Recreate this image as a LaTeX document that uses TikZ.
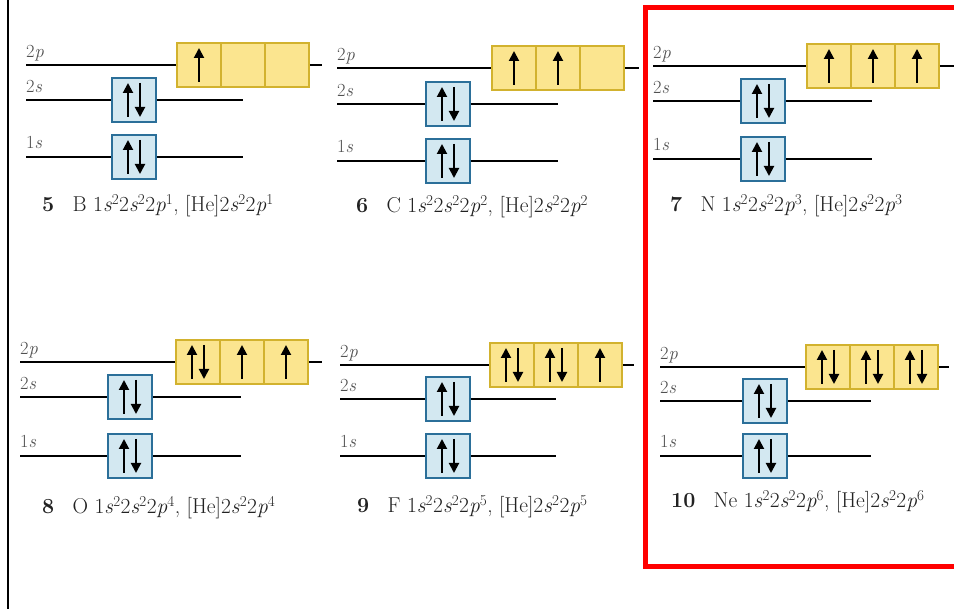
\documentclass[tikz,border=0pt]{standalone}
\usepackage{fontspec}
\usetikzlibrary{arrows.meta}
\definecolor{sfill}{HTML}{D3E8F1}
\definecolor{sborder}{HTML}{2B6F99}
\definecolor{pfill}{HTML}{FBE58F}
\definecolor{pborder}{HTML}{D2B22E}
\definecolor{lblgray}{HTML}{505050}
\definecolor{captxt}{HTML}{222222}
\tikzset{
  lvl/.style={line width=1.8pt, black},
  sbox/.style={draw=sborder, fill=sfill, line width=1.8pt, minimum width=44pt, minimum height=44pt, inner sep=0pt},
  pbox/.style={draw=pborder, fill=pfill, line width=1.5pt, minimum width=44pt, minimum height=44pt, inner sep=0pt},
  orb/.style={font=\fontsize{18.5}{19}\selectfont, text=lblgray, anchor=base west, inner sep=0pt},
  captn/.style={font=\fontsize{21.5}{22}\selectfont, text=captxt, anchor=base west, inner sep=0pt},
  spin/.style={line width=2pt, black, -{Triangle[length=10pt,width=10pt]}},
  frame/.style={red, line width=5pt},
}
\newcommand\spinup[1]{\draw[spin] ([yshift=-17pt]#1.center) -- ([yshift=17pt]#1.center);}
\newcommand\spinpair[1]{%
  \draw[spin] ([xshift=-6pt,yshift=-17pt]#1.center) -- ([xshift=-6pt,yshift=17pt]#1.center);%
  \draw[spin] ([xshift=6pt,yshift=17pt]#1.center) -- ([xshift=6pt,yshift=-17pt]#1.center);}
\newcommand\cfg[3]{\textbf{#1}\hspace{0.85em}#2 1\textit{s}\textsuperscript{2}2\textit{s}\textsuperscript{2}2\textit{p}\textsuperscript{#3}, [He]2\textit{s}\textsuperscript{2}2\textit{p}\textsuperscript{#3}}
\begin{document}
\begin{tikzpicture}[x=1pt,y=-1pt]
\useasboundingbox[fill=white] (0,0) rectangle (954,609);
% left rule and red frame
\coordinate (lt) at (8,0); \coordinate (lb) at (8,609);
\draw[line width=2.5pt] (lt) -- (lb);
\coordinate (f1) at (965,8); \coordinate (f2) at (645,8); \coordinate (f3) at (645,567); \coordinate (f4) at (965,567);
\draw[frame] (f1) -- (f2) -- (f3) -- (f4);

% ---------- Panel 5 : B ----------
\coordinate (L5p) at (26,65); \coordinate (R5p) at (322,65);
\coordinate (L5s) at (26,100); \coordinate (R5s) at (243,100);
\coordinate (L5o) at (26,157); \coordinate (R5o) at (243,157);
\node[pbox] (p5a) at (199,65) {}; \node[pbox] (p5b) at (243,65) {}; \node[pbox] (p5c) at (287,65) {};
\node[sbox] (s5) at (134,100) {}; \node[sbox] (o5) at (134,157) {};
\draw[lvl] (L5p) -- (p5a.west); \draw[lvl] (p5c.east) -- (R5p);
\draw[lvl] (L5s) -- (s5.west); \draw[lvl] (s5.east) -- (R5s);
\draw[lvl] (L5o) -- (o5.west); \draw[lvl] (o5.east) -- (R5o);
\spinup{p5a} \spinpair{s5} \spinpair{o5}
\node[orb] (t5p) at (26,58) {2\textit{p}};
\node[orb] (t5s) at (26,93) {2\textit{s}};
\node[orb] (t5o) at (26,149) {1\textit{s}};
\node[captn] (c5) at (42,212) {\cfg{5}{B}{1}};

% ---------- Panel 6 : C ----------
\coordinate (L6p) at (337,68); \coordinate (R6p) at (639,68);
\coordinate (L6s) at (337,104); \coordinate (R6s) at (558,104);
\coordinate (L6o) at (337,161); \coordinate (R6o) at (558,161);
\node[pbox] (p6a) at (514,68) {}; \node[pbox] (p6b) at (558,68) {}; \node[pbox] (p6c) at (602,68) {};
\node[sbox] (s6) at (448,104) {}; \node[sbox] (o6) at (448,161) {};
\draw[lvl] (L6p) -- (p6a.west); \draw[lvl] (p6c.east) -- (R6p);
\draw[lvl] (L6s) -- (s6.west); \draw[lvl] (s6.east) -- (R6s);
\draw[lvl] (L6o) -- (o6.west); \draw[lvl] (o6.east) -- (R6o);
\spinup{p6a} \spinup{p6b} \spinpair{s6} \spinpair{o6}
\node[orb] (t6p) at (337,61) {2\textit{p}};
\node[orb] (t6s) at (337,97) {2\textit{s}};
\node[orb] (t6o) at (337,153) {1\textit{s}};
\node[captn] (c6) at (356,213) {\cfg{6}{C}{2}};

% ---------- Panel 7 : N ----------
\coordinate (L7p) at (653,66); \coordinate (R7p) at (965,66);
\coordinate (L7s) at (653,101); \coordinate (R7s) at (872,101);
\coordinate (L7o) at (653,159); \coordinate (R7o) at (872,159);
\node[pbox] (p7a) at (829,66) {}; \node[pbox] (p7b) at (873,66) {}; \node[pbox] (p7c) at (917,66) {};
\node[sbox] (s7) at (763,101) {}; \node[sbox] (o7) at (763,159) {};
\draw[lvl] (L7p) -- (p7a.west); \draw[lvl] (p7c.east) -- (R7p);
\draw[lvl] (L7s) -- (s7.west); \draw[lvl] (s7.east) -- (R7s);
\draw[lvl] (L7o) -- (o7.west); \draw[lvl] (o7.east) -- (R7o);
\spinup{p7a} \spinup{p7b} \spinup{p7c} \spinpair{s7} \spinpair{o7}
\node[orb] (t7p) at (653,59) {2\textit{p}};
\node[orb] (t7s) at (653,94) {2\textit{s}};
\node[orb] (t7o) at (653,151) {1\textit{s}};
\node[captn] (c7) at (670,212) {\cfg{7}{N}{3}};

% ---------- Panel 8 : O ----------
\coordinate (L8p) at (20,362); \coordinate (R8p) at (322,362);
\coordinate (L8s) at (20,397); \coordinate (R8s) at (241,397);
\coordinate (L8o) at (20,456); \coordinate (R8o) at (241,456);
\node[pbox] (p8a) at (198,362) {}; \node[pbox] (p8b) at (242,362) {}; \node[pbox] (p8c) at (286,362) {};
\node[sbox] (s8) at (130,397) {}; \node[sbox] (o8) at (130,456) {};
\draw[lvl] (L8p) -- (p8a.west); \draw[lvl] (p8c.east) -- (R8p);
\draw[lvl] (L8s) -- (s8.west); \draw[lvl] (s8.east) -- (R8s);
\draw[lvl] (L8o) -- (o8.west); \draw[lvl] (o8.east) -- (R8o);
\spinpair{p8a} \spinup{p8b} \spinup{p8c} \spinpair{s8} \spinpair{o8}
\node[orb] (t8p) at (20,355) {2\textit{p}};
\node[orb] (t8s) at (20,390) {2\textit{s}};
\node[orb] (t8o) at (20,448) {1\textit{s}};
\node[captn] (c8) at (42,514) {\cfg{8}{O}{4}};

% ---------- Panel 9 : F ----------
\coordinate (L9p) at (340,365); \coordinate (R9p) at (634,365);
\coordinate (L9s) at (340,399); \coordinate (R9s) at (556,399);
\coordinate (L9o) at (340,456); \coordinate (R9o) at (556,456);
\node[pbox] (p9a) at (512,365) {}; \node[pbox] (p9b) at (556,365) {}; \node[pbox] (p9c) at (600,365) {};
\node[sbox] (s9) at (448,399) {}; \node[sbox] (o9) at (448,456) {};
\draw[lvl] (L9p) -- (p9a.west); \draw[lvl] (p9c.east) -- (R9p);
\draw[lvl] (L9s) -- (s9.west); \draw[lvl] (s9.east) -- (R9s);
\draw[lvl] (L9o) -- (o9.west); \draw[lvl] (o9.east) -- (R9o);
\spinpair{p9a} \spinpair{p9b} \spinup{p9c} \spinpair{s9} \spinpair{o9}
\node[orb] (t9p) at (340,358) {2\textit{p}};
\node[orb] (t9s) at (340,392) {2\textit{s}};
\node[orb] (t9o) at (340,448) {1\textit{s}};
\node[captn] (c9) at (357,513) {\cfg{9}{F}{5}};

% ---------- Panel 10 : Ne ----------
\coordinate (L10p) at (660,367); \coordinate (R10p) at (949,367);
\coordinate (L10s) at (660,401); \coordinate (R10s) at (871,401);
\coordinate (L10o) at (660,456); \coordinate (R10o) at (871,456);
\node[pbox] (p10a) at (828,367) {}; \node[pbox] (p10b) at (872,367) {}; \node[pbox] (p10c) at (916,367) {};
\node[sbox] (s10) at (765,401) {}; \node[sbox] (o10) at (765,456) {};
\draw[lvl] (L10p) -- (p10a.west); \draw[lvl] (p10c.east) -- (R10p);
\draw[lvl] (L10s) -- (s10.west); \draw[lvl] (s10.east) -- (R10s);
\draw[lvl] (L10o) -- (o10.west); \draw[lvl] (o10.east) -- (R10o);
\spinpair{p10a} \spinpair{p10b} \spinpair{p10c} \spinpair{s10} \spinpair{o10}
\node[orb] (t10p) at (660,360) {2\textit{p}};
\node[orb] (t10s) at (660,394) {2\textit{s}};
\node[orb] (t10o) at (660,448) {1\textit{s}};
\node[captn] (c10) at (671,508) {\cfg{10}{Ne}{6}};
\end{tikzpicture}
\end{document}
